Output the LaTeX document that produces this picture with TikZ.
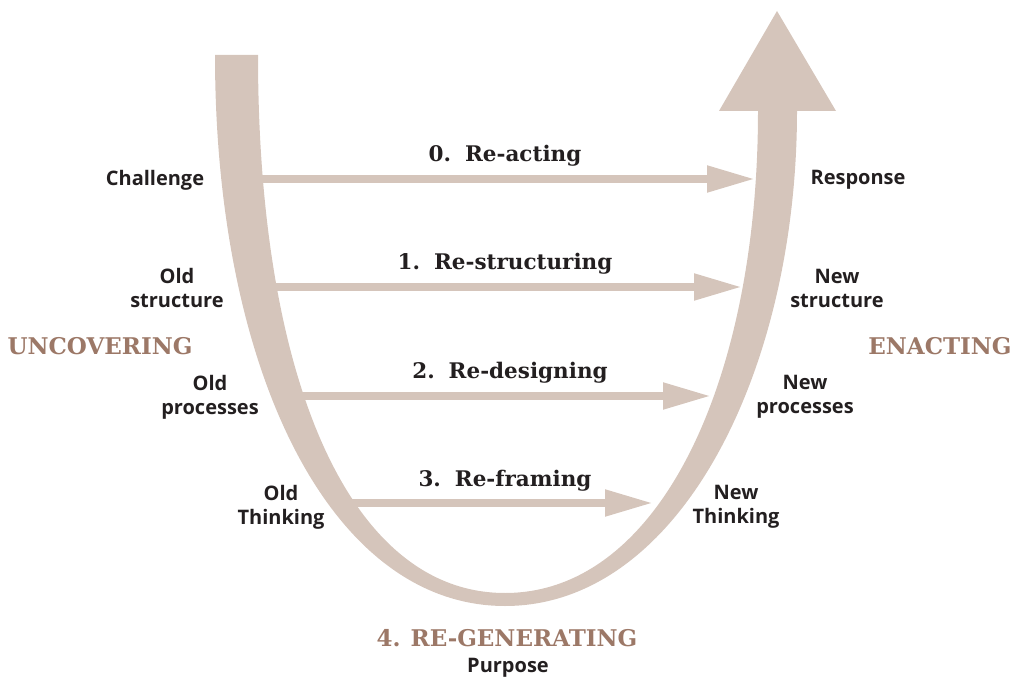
\documentclass[tikz,border=0pt]{standalone}
\usepackage{fontspec}
\usetikzlibrary{arrows.meta}
\newfontfamily\lblfont{Open Sans}
\newfontfamily\headfont{DejaVu Serif}
\definecolor{bandtan}{HTML}{D5C5BB}
\definecolor{headbrown}{HTML}{9C7867}
\definecolor{lbltext}{HTML}{231F20}

\begin{document}
\begin{tikzpicture}[x=1pt, y=-1pt,
        band/.style={fill=bandtan},
        flow/.style={draw=bandtan, line width=8pt, -{Triangle[length=48pt, width=25pt]}},
        side/.style={font=\lblfont\bfseries\fontsize{20}{24}\selectfont, text=lbltext, align=center},
        stage/.style={font=\headfont\bfseries\fontsize{21.5}{24}\selectfont, text=lbltext, anchor=base},
        phase/.style={font=\headfont\bfseries\fontsize{23}{28}\selectfont, text=headbrown}
    ]
        \useasboundingbox (0,0) rectangle (1010,679);

        % Arrow ends on the U
        \coordinate (in0) at (245,179);
        \coordinate (out0) at (755,179);
        \coordinate (in1) at (258,287);
        \coordinate (out1) at (742,287);
        \coordinate (in2) at (288,396);
        \coordinate (out2) at (711,396);
        \coordinate (in3) at (343,503);
        \coordinate (out3) at (653,503);

        % Arrows
        \draw[flow] (in0) -- (out0);
        \draw[flow] (in1) -- (out1);
        \draw[flow] (in2) -- (out2);
        \draw[flow] (in3) -- (out3);

        % The U with its arrow head
        \fill[band] (215,55) .. controls (215,370) and (330,606) .. (505,606)
            .. controls (680,606) and (797,370) .. (797,111)
            -- (836,111) -- (777,11) -- (719,111) -- (758,111)
            .. controls (758,380) and (660,593) .. (505,593)
            .. controls (350,593) and (258,380) .. (258,55) -- cycle;

        % Stage labels
        \node[stage] (react) at (505,162) {0.\hspace{14pt}Re-acting};
        \node[stage] (restruct) at (505,270) {1.\hspace{14pt}Re-structuring};
        \node[stage] (redesign) at (510,378) {2.\hspace{14pt}Re-designing};
        \node[stage] (reframe) at (505,486) {3.\hspace{14pt}Re-framing};

        % Left side
        \node[side] (challenge) at (155,180) {Challenge};
        \node[side] (oldstruct) at (177,288) {Old\\structure};
        \node[side] (oldproc) at (210,397) {Old\\processes};
        \node[side] (oldthink) at (281,507) {Old\\Thinking};

        % Right side
        \node[side] (response) at (858,180) {Response};
        \node[side] (newstruct) at (837,288) {New\\structure};
        \node[side] (newproc) at (805,397) {New\\processes};
        \node[side] (newthink) at (736,507) {New\\Thinking};

        % Phases
        \node[phase] (uncover) at (100,346) {UNCOVERING};
        \node[phase] (enact) at (940,346) {ENACTING};
        \node[phase] (regen) at (507,638) {4.\hspace{10pt}RE-GENERATING};
        \node[side] (purpose) at (508,668) {Purpose};
    \end{tikzpicture}
\end{document}
